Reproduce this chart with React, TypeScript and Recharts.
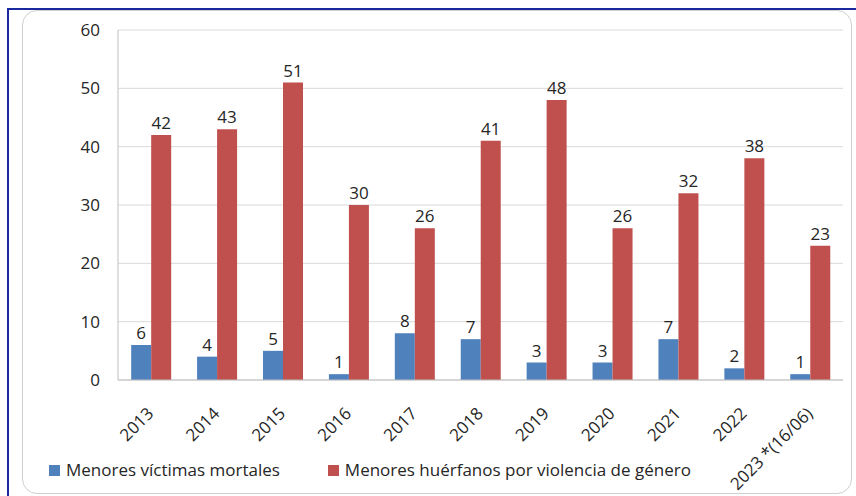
import React from 'react';
import { BarChart, Bar, XAxis, YAxis, CartesianGrid, Legend, LabelList } from 'recharts';

const years = ['2013', '2014', '2015', '2016', '2017', '2018', '2019', '2020', '2021', '2022', '2023 *(16/06)'];
const victimas = [6, 4, 5, 1, 8, 7, 3, 3, 7, 2, 1];
const huerfanos = [42, 43, 51, 30, 26, 41, 48, 26, 32, 38, 23];
const yTicks = [0, 10, 20, 30, 40, 50, 60];
const seriesNames = ['Menores víctimas mortales', 'Menores huérfanos por violencia de género'];
const seriesColors = ['#4f81bd', '#c0504d'];

const data = years.map((year, i) => ({ year, victimas: victimas[i], huerfanos: huerfanos[i] }));

const FONT = '"Open Sans", sans-serif';
const INK = '#262626';

const YearTick = (props: any) => {
  const { x, y, payload } = props;
  return (
    <text
      transform={`translate(${x - 5},${y + 18}) rotate(-45)`}
      textAnchor="end"
      dy="0.72em"
      style={{ fontSize: 17, fontFamily: FONT, fill: INK }}
    >
      {payload.value}
    </text>
  );
};

const LegendBox = () => (
  <div style={{ display: 'flex', alignItems: 'center', fontFamily: FONT, fontSize: 17, color: INK, lineHeight: '24px' }}>
    {seriesNames.map((name, i) => (
      <span key={name} style={{ display: 'flex', alignItems: 'center', marginRight: 48 }}>
        <span style={{ display: 'inline-block', width: 11, height: 11, background: seriesColors[i], marginRight: 6 }} />
        {name}
      </span>
    ))}
  </div>
);

const App: React.FC = () => {
  return (
    <div style={{ position: 'fixed', left: 0, top: 0, width: 856, height: 496, background: '#fff' }}>
      <div style={{ position: 'absolute', left: 7, top: 8, width: 849, height: 488, borderTop: '2px solid #1a2a9e', borderLeft: '2px solid #1a2a9e' }} />
      <div style={{ position: 'absolute', left: 22, top: 10, width: 828, height: 482, border: '1px solid #cfcfcf', borderRadius: 15 }} />
      <div style={{ position: 'absolute', left: 0, top: 0 }}>
        <BarChart
          width={856}
          height={496}
          data={data}
          margin={{ top: 30, right: 13, left: 0, bottom: 22 }}
          barCategoryGap="20%"
          barGap={0}
        >
          <CartesianGrid horizontal vertical={false} stroke="#d9d9d9" />
          <XAxis
            dataKey="year"
            tick={<YearTick />}
            tickLine={false}
            axisLine={{ stroke: '#bfbfbf' }}
            interval={0}
            height={70}
          />
          <YAxis
            domain={[0, 60]}
            ticks={yTicks}
            width={118}
            tickLine={false}
            axisLine={{ stroke: '#bfbfbf' }}
            tickSize={0}
            tickMargin={18}
            tick={{ fontSize: 17, fill: INK, fontFamily: FONT }}
          />
          <Legend content={<LegendBox />} wrapperStyle={{ left: 49, top: 458, width: 'auto' }} />
          <Bar dataKey="victimas" name={seriesNames[0]} fill={seriesColors[0]} isAnimationActive={false}>
            <LabelList dataKey="victimas" position="top" offset={6} fill={INK} fontSize={17} fontFamily={FONT} />
          </Bar>
          <Bar dataKey="huerfanos" name={seriesNames[1]} fill={seriesColors[1]} isAnimationActive={false}>
            <LabelList dataKey="huerfanos" position="top" offset={6} fill={INK} fontSize={17} fontFamily={FONT} />
          </Bar>
        </BarChart>
      </div>
    </div>
  );
};

export default App;
